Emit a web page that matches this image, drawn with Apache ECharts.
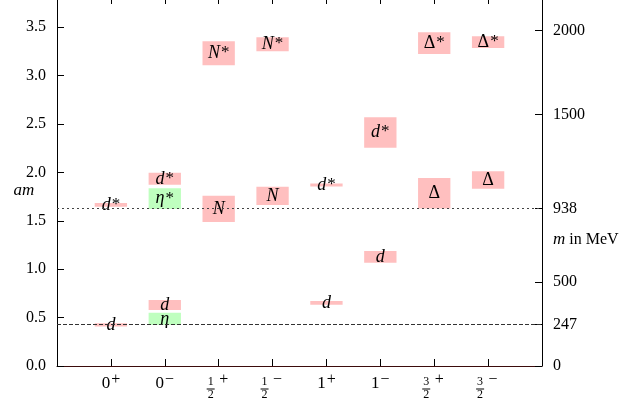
<!DOCTYPE html>
<html>
<head>
<meta charset="utf-8">
<script src="https://cdn.jsdelivr.net/npm/echarts@6/dist/echarts.min.js"></script>
<style>html,body{margin:0;padding:0;background:#fff}#c{width:621px;height:402px}</style>
</head>
<body>
<div id="c"></div>
<script>
// ---- data ----
const categories = ['0+', '0-', '1/2+', '1/2-', '1+', '1-', '3/2+', '3/2-'];
const stateCat   = [0, 0, 1, 1, 1, 1, 2, 2, 3, 3, 4, 4, 5, 5, 6, 6, 7, 7];
const stateLabel = ['d', 'd*', 'η', 'd', 'η*', 'd*', 'N', 'N*', 'N', 'N*', 'd', 'd*', 'd', 'd*', 'Δ', 'Δ*', 'Δ', 'Δ*'];
const stateKind  = ['d', 'd', 'eta', 'd', 'eta', 'd', 'd', 'd', 'd', 'd', 'd', 'd', 'd', 'd', 'd', 'd', 'd', 'd'];
const stateLow   = [0.408, 1.645, 0.423, 0.578, 1.621, 1.872, 1.487, 3.108, 1.662, 3.252, 0.633, 1.855, 1.067, 2.254, 1.628, 3.224, 1.831, 3.286];
const stateHigh  = [0.442, 1.683, 0.550, 0.681, 1.835, 1.996, 1.758, 3.355, 1.851, 3.397, 0.671, 1.886, 1.187, 2.571, 1.941, 3.448, 2.013, 3.407];
const amTicks    = [0, 0.5, 1.0, 1.5, 2.0, 2.5, 3.0, 3.5];
const mevTicks   = [0, 247, 500, 938, 1500, 2000];
const refLinesMeV = [938, 247];
const MEV_PER_AM = 577;
const AM_MAX = 3.812;

// ---- styles ----
const F = "'Liberation Serif', 'DejaVu Serif', serif";
const kindColor = { d: '#ffbfbf', eta: '#bfffbf' };
const HALF_W = 0.30;

function stateText(s) {
  const star = s.endsWith('*');
  const base = star ? s.slice(0, -1) : s;
  const style = base === 'Δ' ? 'u' : 'i';
  return '{' + style + '|' + base + '}' + (star ? '{s|*}' : '');
}
function xLabel(v) {
  const idx = Math.round(v);
  const s = categories[idx];
  if (s === undefined) return '';
  const sign = s.slice(-1) === '+' ? '+' : '−';
  const base = s.slice(0, -1);
  if (base.indexOf('/') >= 0) {
    const [num, den] = base.split('/');
    return '{fn|' + num + '}{fs|' + sign + '}\n{fb| }{fg| }\n{fd|' + den + '}{fg| }';
  }
  return '{n|' + base + '}{s|' + sign + '}';
}

const seriesData = stateCat.map((c, i) => [c, stateLow[i], stateHigh[i], i]);

const chart = echarts.init(document.getElementById('c'), null, { renderer: 'canvas' });
chart.setOption({
  animation: false,
  backgroundColor: '#fff',
  textStyle: { fontFamily: F },
  grid: { left: 57, right: 79, top: -3, bottom: 36, outerBoundsMode: 'none', containLabel: false },
  xAxis: [
    {
      type: 'value', min: -1, max: 8, position: 'bottom',
      axisLine: { show: true, onZero: false, lineStyle: { color: '#3b0b0b', width: 1 } },
      axisTick: { show: true, inside: true, length: 7, customValues: [0, 1, 2, 3, 4, 5, 6, 7], lineStyle: { color: '#000' } },
      axisLabel: {
        customValues: [0, 1, 2, 3, 4, 5, 6, 7], margin: 6, formatter: xLabel, color: '#000', fontFamily: F,
        rich: {
          n: { fontFamily: F, fontSize: 17, color: '#000', lineHeight: 20, verticalAlign: 'bottom' },
          s: { fontFamily: F, fontSize: 16, color: '#000', lineHeight: 20, verticalAlign: 'top', padding: [0, 0, 0, 1] },
          fn: { fontFamily: F, fontSize: 12, color: '#000', width: 8, align: 'center', lineHeight: 16, verticalAlign: 'bottom' },
          fs: { fontFamily: F, fontSize: 16, color: '#000', width: 14, align: 'left', padding: [0, 0, 0, 2], lineHeight: 16, verticalAlign: 'top' },
          fb: { fontSize: 1, width: 8, height: 1, lineHeight: 2, backgroundColor: '#000' },
          fg: { fontSize: 1, width: 16, lineHeight: 2 },
          fd: { fontFamily: F, fontSize: 12, color: '#000', width: 8, align: 'center', lineHeight: 9 }
        }
      },
      splitLine: { show: false }
    },
    {
      type: 'value', min: -1, max: 8, position: 'top',
      axisLine: { show: true, onZero: false, lineStyle: { color: '#000' } },
      axisTick: { show: true, inside: true, length: 7, customValues: [0, 1, 2, 3, 4, 5, 6, 7], lineStyle: { color: '#000' } },
      axisLabel: { show: false },
      splitLine: { show: false }
    }
  ],
  yAxis: [
    {
      type: 'value', min: 0, max: AM_MAX, position: 'left',
      name: '{i|am}', nameLocation: 'middle', nameRotate: 0, nameGap: 33, nameMoveOverlap: false,
      nameTextStyle: { align: 'center', padding: [18, 0, 0, 0], rich: { i: { fontFamily: F, fontStyle: 'italic', fontSize: 17, color: '#000' } } },
      axisLine: { show: true, onZero: false, lineStyle: { color: '#000' } },
      axisTick: { show: true, inside: true, length: 7, customValues: amTicks, lineStyle: { color: '#000' } },
      axisLabel: { customValues: amTicks, margin: 11, formatter: v => v.toFixed(1), fontFamily: F, fontSize: 16, color: '#000' },
      splitLine: { show: false }
    },
    {
      type: 'value', min: 0, max: AM_MAX * MEV_PER_AM, position: 'right',
      name: '{i|m} in MeV', nameLocation: 'middle', nameRotate: 0, nameGap: 11, nameMoveOverlap: false,
      nameTextStyle: { align: 'left', fontFamily: F, fontSize: 16, color: '#000', padding: [116, 0, 0, 0], rich: { i: { fontFamily: F, fontStyle: 'italic', fontSize: 17, color: '#000' } } },
      axisLine: { show: true, onZero: false, lineStyle: { color: '#000' } },
      axisTick: { show: true, inside: true, length: 7, customValues: mevTicks, lineStyle: { color: '#000' } },
      axisLabel: { customValues: mevTicks, margin: 11, formatter: v => String(Math.round(v)), fontFamily: F, fontSize: 16, color: '#000' },
      splitLine: { show: false }
    }
  ],
  series: [
    {
      type: 'custom',
      xAxisIndex: 0, yAxisIndex: 0,
      data: seriesData,
      clip: false,
      renderItem: function (params, api) {
        const x = api.value(0), lo = api.value(1), hi = api.value(2), i = api.value(3);
        const p1 = api.coord([x - HALF_W, hi]);
        const p2 = api.coord([x + HALF_W, lo]);
        return {
          type: 'group',
          children: [
            { type: 'rect', shape: { x: p1[0], y: p1[1], width: p2[0] - p1[0], height: p2[1] - p1[1] }, style: { fill: kindColor[stateKind[i]] }, z2: 1 },
            {
              type: 'text', x: (p1[0] + p2[0]) / 2, y: (p1[1] + p2[1]) / 2, z2: 10,
              style: {
                text: stateText(stateLabel[i]), align: 'center', verticalAlign: 'middle',
                rich: {
                  i: { fontFamily: F, fontStyle: 'italic', fontSize: 18, fill: '#000', lineHeight: 18, verticalAlign: 'bottom' },
                  u: { fontFamily: F, fontSize: 18, fill: '#000', lineHeight: 18, verticalAlign: 'bottom' },
                  s: { fontFamily: F, fontSize: 17, fill: '#000', lineHeight: 18, verticalAlign: 'top', padding: [0, 0, 0, 1] }
                }
              }
            }
          ]
        };
      },
      markLine: {
        silent: true, symbol: 'none', label: { show: false },
        data: [
          { yAxis: refLinesMeV[0] / MEV_PER_AM, lineStyle: { type: [2, 3], color: '#444', width: 1 } },
          { yAxis: refLinesMeV[1] / MEV_PER_AM, lineStyle: { type: [4, 2], color: '#333', width: 1 } }
        ]
      },
      z: 2
    }
  ]
});
</script>
</body>
</html>
